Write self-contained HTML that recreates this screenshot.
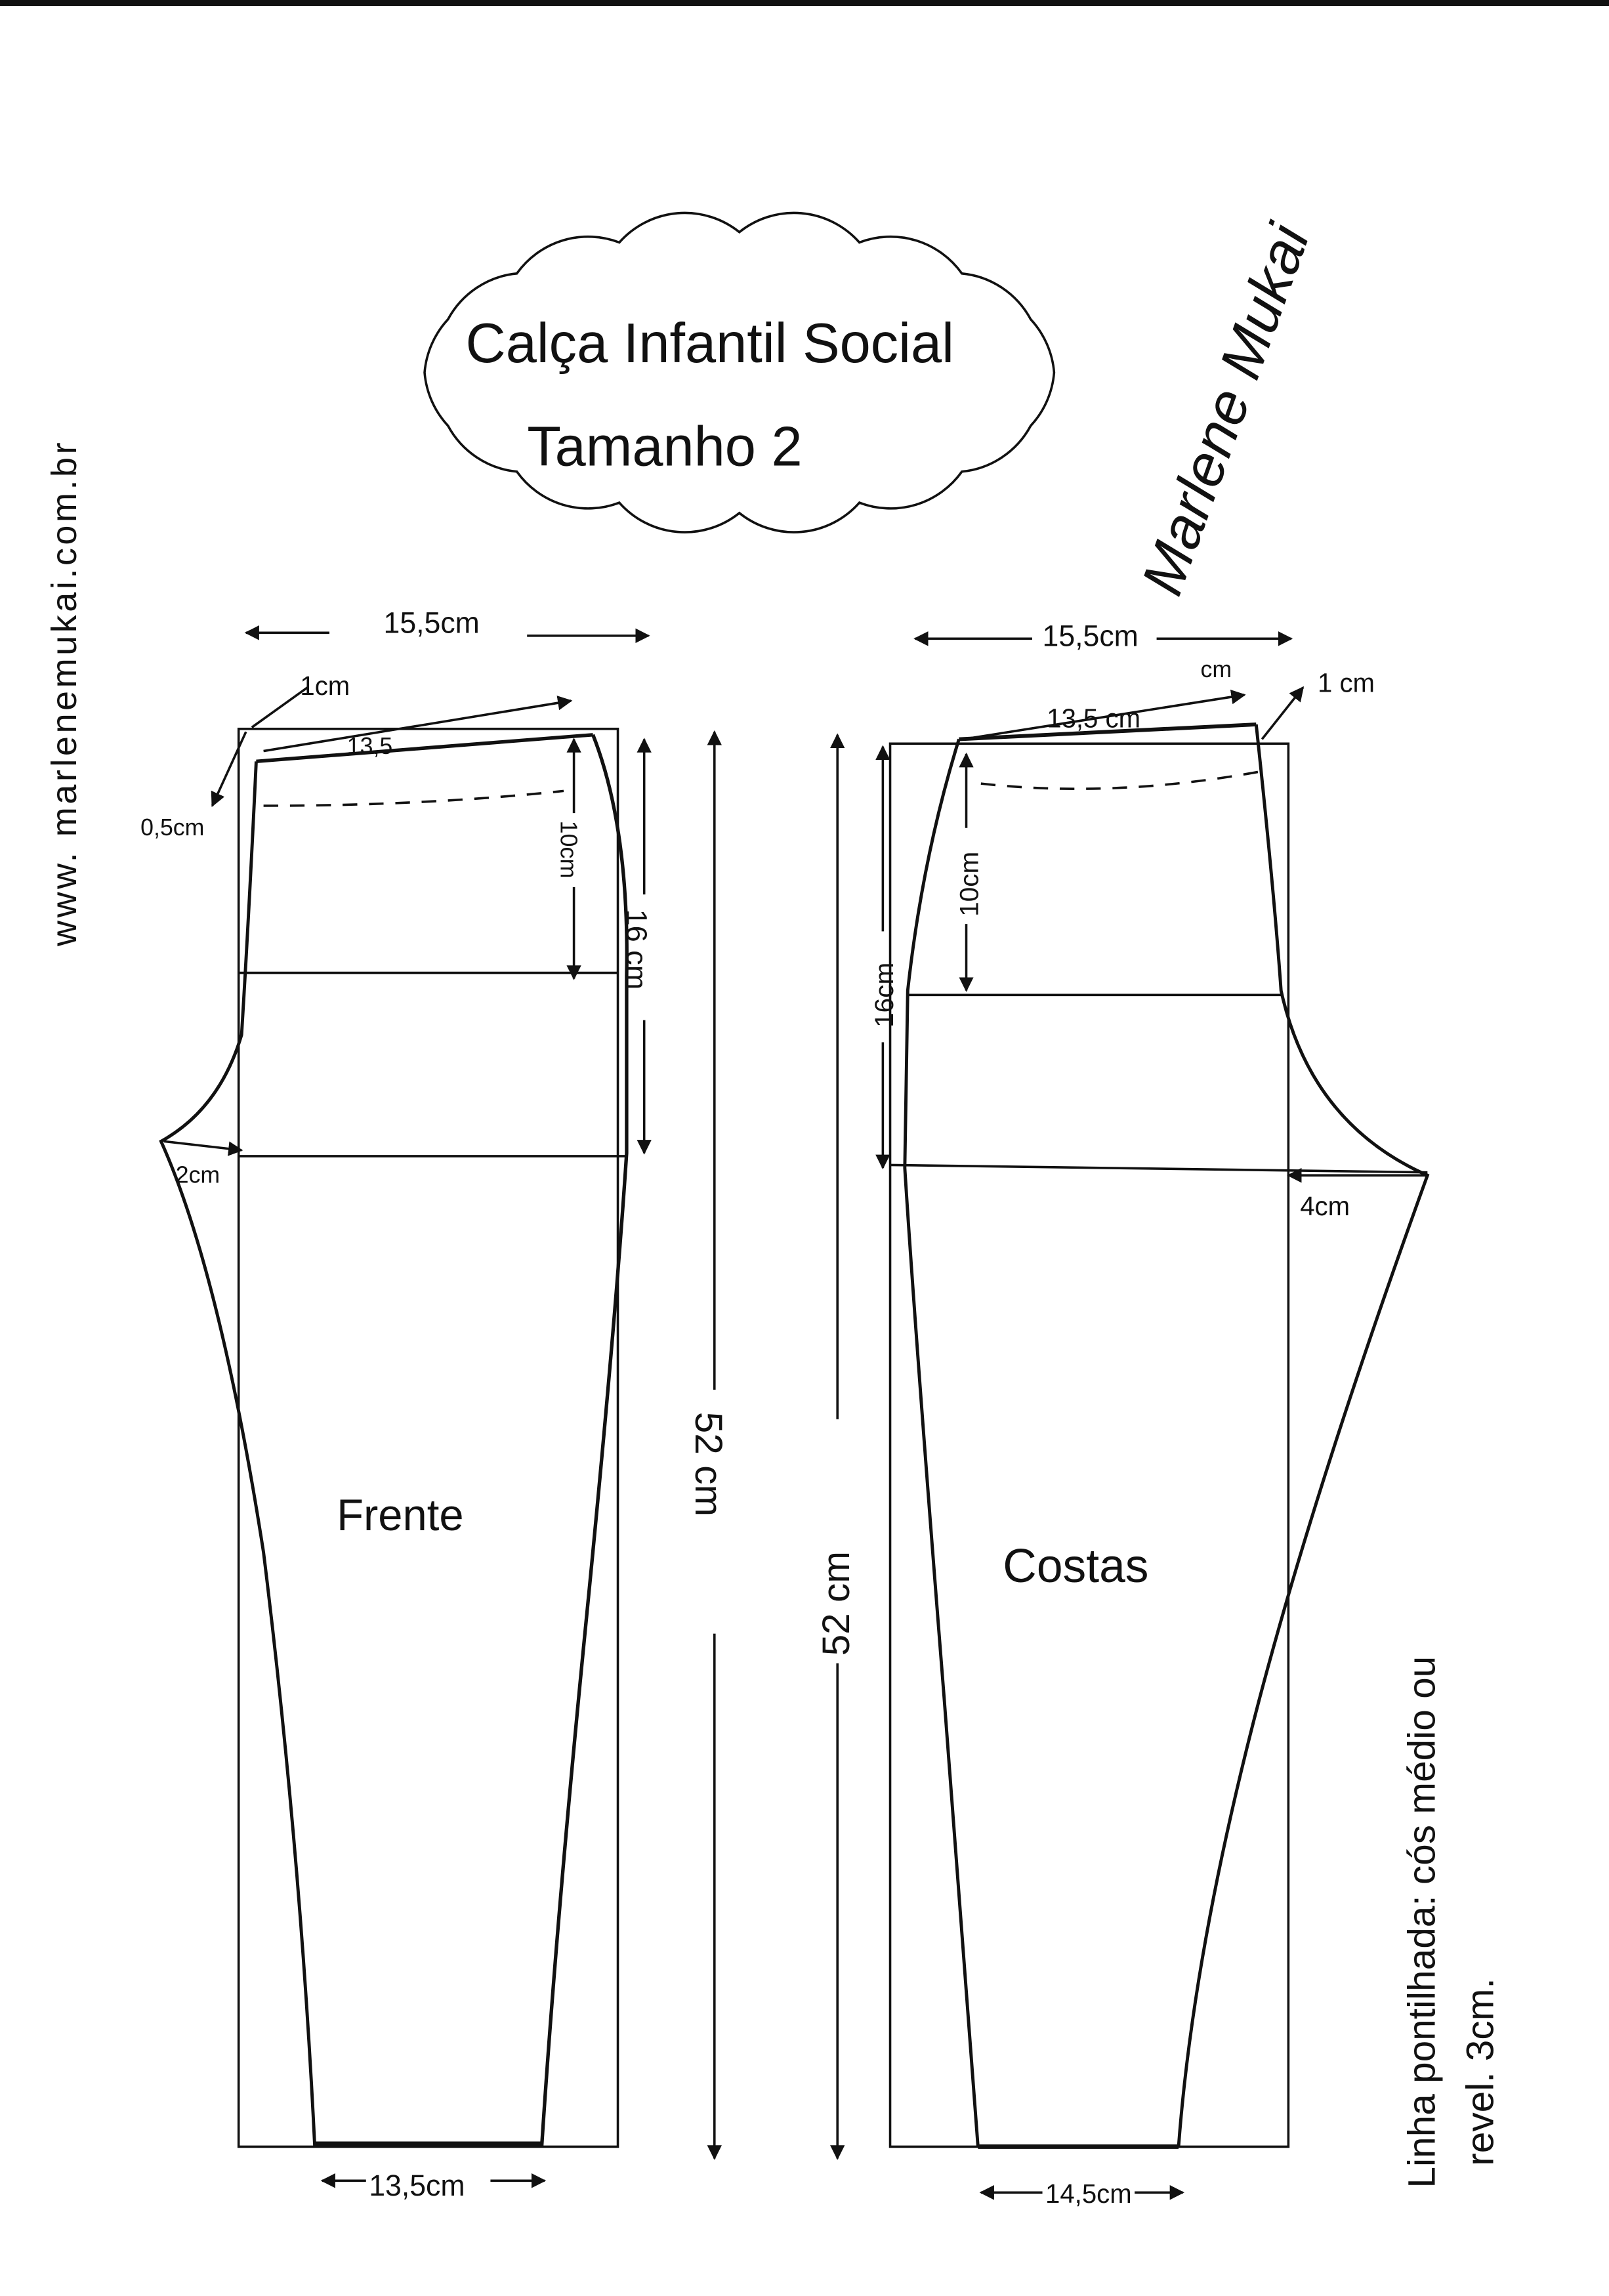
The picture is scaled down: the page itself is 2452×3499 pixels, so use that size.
<!DOCTYPE html>
<html><head><meta charset="utf-8"><style>
html,body{margin:0;padding:0;background:#fff;}
svg{display:block;}
text{font-family:"Liberation Sans",sans-serif;fill:#111;}
</style></head><body>
<svg width="2452" height="3499" viewBox="0 0 1099 1553" preserveAspectRatio="none" xmlns="http://www.w3.org/2000/svg">
<defs>
<marker id="a" markerWidth="10" markerHeight="10" refX="9" refY="5" orient="auto" markerUnits="userSpaceOnUse"><path d="M0,0 L10,5 L0,10 z" fill="#111"/></marker>
<marker id="b" markerWidth="10" markerHeight="10" refX="1" refY="5" orient="auto" markerUnits="userSpaceOnUse"><path d="M10,0 L0,5 L10,10 z" fill="#111"/></marker>
</defs>
<rect x="0" y="0" width="1099" height="4" fill="#111"/>
<g fill="none" stroke="#111" stroke-width="1.6">
<path d="M720,252 A60,60 0 0 1 704,288 A60,60 0 0 1 657,319 A60,60 0 0 1 587,340 A60,60 0 0 1 505,347 A60,60 0 0 1 423,340 A60,60 0 0 1 353,319 A60,60 0 0 1 306,288 A60,60 0 0 1 290,252 A60,60 0 0 1 306,216 A60,60 0 0 1 353,185 A60,60 0 0 1 423,164 A60,60 0 0 1 505,157 A60,60 0 0 1 587,164 A60,60 0 0 1 657,185 A60,60 0 0 1 704,216 A60,60 0 0 1 720,252 Z"/>
<rect x="163" y="493" width="259" height="959"/>
<line x1="163" y1="658" x2="422" y2="658"/>
<line x1="163" y1="782" x2="428" y2="782"/>
<path d="M175,515 L405,497" stroke-width="2.4"/>
<path d="M175,515 Q170,620 165,700 Q150,750 110,772 Q150,860 180,1050 Q205,1250 215,1452" stroke-width="2.2"/>
<path d="M405,497 Q430,560 428,660 L428,780 Q420,900 400,1100 Q380,1300 370,1452" stroke-width="2.4"/>
<line x1="215" y1="1450" x2="370" y2="1450" stroke-width="3"/>
<path d="M180,545 Q290,545 385,535" stroke-dasharray="10,8"/>
<rect x="608" y="503" width="272" height="949"/>
<line x1="620" y1="673" x2="875" y2="673"/>
<line x1="608" y1="788" x2="975" y2="793"/>
<path d="M655,500 L858,490" stroke-width="2.6"/>
<path d="M655,500 Q630,580 620,670 L618,790 Q625,900 645,1150 Q660,1350 668,1452" stroke-width="2.2"/>
<path d="M858,490 Q870,600 875,670 Q895,760 975,795 Q900,1000 860,1150 Q815,1320 805,1452" stroke-width="2.2"/>
<line x1="668" y1="1452" x2="805" y2="1452" stroke-width="3"/>
<path d="M670,530 Q760,540 860,522" stroke-dasharray="10,8"/>
<line x1="168" y1="428" x2="225" y2="428" marker-start="url(#b)"/>
<line x1="360" y1="430" x2="443" y2="430" marker-end="url(#a)"/>
<line x1="625" y1="432" x2="705" y2="432" marker-start="url(#b)"/>
<line x1="790" y1="432" x2="882" y2="432" marker-end="url(#a)"/>
<line x1="488" y1="495" x2="488" y2="940" marker-start="url(#b)"/>
<line x1="488" y1="1105" x2="488" y2="1460" marker-end="url(#a)"/>
<line x1="572" y1="497" x2="572" y2="960" marker-start="url(#b)"/>
<line x1="572" y1="1125" x2="572" y2="1460" marker-end="url(#a)"/>
<line x1="440" y1="500" x2="440" y2="605" marker-start="url(#b)"/>
<line x1="440" y1="690" x2="440" y2="780" marker-end="url(#a)"/>
<line x1="603" y1="505" x2="603" y2="630" marker-start="url(#b)"/>
<line x1="603" y1="705" x2="603" y2="790" marker-end="url(#a)"/>
<line x1="392" y1="500" x2="392" y2="550" marker-start="url(#b)"/>
<line x1="392" y1="600" x2="392" y2="662" marker-end="url(#a)"/>
<line x1="660" y1="510" x2="660" y2="560" marker-start="url(#b)"/>
<line x1="660" y1="625" x2="660" y2="670" marker-end="url(#a)"/>
<line x1="220" y1="1475" x2="250" y2="1475" marker-start="url(#b)"/>
<line x1="335" y1="1475" x2="372" y2="1475" marker-end="url(#a)"/>
<line x1="670" y1="1483" x2="712" y2="1483" marker-start="url(#b)"/>
<line x1="775" y1="1483" x2="808" y2="1483" marker-end="url(#a)"/>
<line x1="180" y1="508" x2="390" y2="474" marker-end="url(#a)"/>
<line x1="168" y1="495" x2="145" y2="545" marker-end="url(#a)"/>
<line x1="112" y1="772" x2="165" y2="778" marker-end="url(#a)"/>
<line x1="975" y1="795" x2="880" y2="795" marker-end="url(#a)"/>
<line x1="658" y1="500" x2="850" y2="470" marker-end="url(#a)"/>
<line x1="862" y1="500" x2="890" y2="465" marker-end="url(#a)"/>
<line x1="172" y1="492" x2="210" y2="465"/>
</g>
<text x="318" y="245" font-size="38">Calça  Infantil Social</text>
<text x="360" y="315" font-size="38">Tamanho  2</text>
<text x="262" y="428" font-size="20">15,5cm</text>
<text x="712" y="437" font-size="20">15,5cm</text>
<text x="205" y="470" font-size="18">1cm</text>
<text x="237" y="510" font-size="16">13,5</text>
<text x="96" y="565" font-size="16">0,5cm</text>
<text x="120" y="800" font-size="16">2cm</text>
<text x="715" y="492" font-size="18">13,5 cm</text>
<text x="820" y="458" font-size="16">cm</text>
<text x="900" y="468" font-size="18">1 cm</text>
<text x="888" y="822" font-size="18">4cm</text>
<text x="230" y="1035" font-size="30">Frente</text>
<text x="685" y="1070" font-size="32">Costas</text>
<text x="252" y="1485" font-size="20">13,5cm</text>
<text x="714" y="1490" font-size="18">14,5cm</text>
<text transform="translate(475,955) rotate(90)" font-size="26">52 cm</text>
<text transform="translate(580,1120) rotate(-90)" font-size="26">52 cm</text>
<text transform="translate(428,615) rotate(90)" font-size="20">16 cm</text>
<text transform="translate(610,695) rotate(-90)" font-size="18">16cm</text>
<text transform="translate(383,555) rotate(90)" font-size="16">10cm</text>
<text transform="translate(668,620) rotate(-90)" font-size="18">10cm</text>
<text transform="translate(52,640) rotate(-90)" font-size="24" letter-spacing="2">www. marlenemukai.com.br</text>
<text transform="translate(980,1480) rotate(-90)" font-size="26">Linha pontilhada: cós médio ou</text>
<text transform="translate(1020,1465) rotate(-90)" font-size="26">revel.  3cm.</text>
<text transform="translate(805,405) rotate(-70)" font-size="40" font-style="italic">Marlene Mukai</text>
</svg>
</body></html>
